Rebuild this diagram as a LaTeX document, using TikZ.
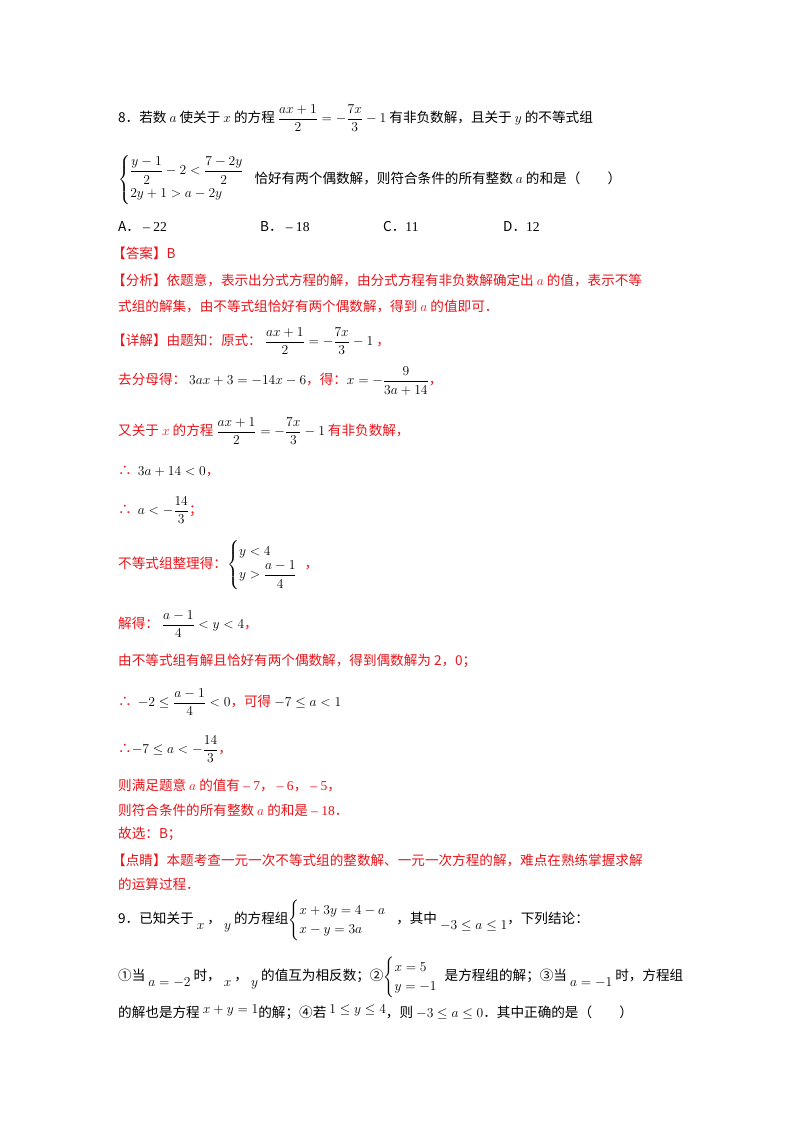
\RequirePackage{fix-cm}
\documentclass[tikz,border=0pt]{standalone}
\usepackage{amsmath,amssymb}
\usepackage{fontspec}
\setmainfont{Liberation Serif}
\newfontfamily\cjk{Noto Sans CJK SC}
\definecolor{ansred}{RGB}{232,20,26}
\newcommand{\lowm}[1]{\raisebox{-6pt}{$#1$}}
\newcommand{\highm}[1]{\raisebox{4pt}{$\scriptstyle #1$}}
\begin{document}
\begin{tikzpicture}[x=1pt,y=-1pt,
  t/.style={anchor=west,inner sep=0pt,font=\fontsize{13.6}{16}\selectfont\cjk},
  r/.style={t,text=ansred}]
\useasboundingbox (0,0) rectangle (800,1132);
\node[t] (q8) at (118,118) {8．若数 $a$ 使关于 $x$ 的方程 $\dfrac{ax+1}{2}=-\dfrac{7x}{3}-1$ 有非负数解，且关于 $y$ 的不等式组};
\node[t] (q8b) at (118,180) {$\begin{cases}\dfrac{y-1}{2}-2<\dfrac{7-2y}{2}\\[2pt] 2y+1>a-2y\end{cases}$\!\!\! 恰好有两个偶数解，则符合条件的所有整数 $a$ 的和是（\qquad ）};
\node[t] (oa) at (118,227) {A．\ {\rmfamily -- 22}};
\node[t] (ob) at (260,227) {B．\ {\rmfamily -- 18}};
\node[t] (oc) at (383,227) {C．{\rmfamily 11}};
\node[t] (od) at (503,227) {D．{\rmfamily 12}};
\node[r] (ans) at (112,253) {【答案】B};
\node[r] (fx1) at (112,280) {【分析】依题意，表示出分式方程的解，由分式方程有非负数解确定出 $a$ 的值，表示不等};
\node[r] (fx2) at (118,306) {式组的解集，由不等式组恰好有两个偶数解，得到 $a$ 的值即可．};
\node[r] (xj) at (112,341) {【详解】由题知：原式：\ $\textcolor{black}{\dfrac{ax+1}{2}=-\dfrac{7x}{3}-1}$\ ，};
\node[r] (s1) at (118,381) {去分母得：\ $\textcolor{black}{3ax+3=-14x-6}$，得：$\textcolor{black}{x=-\dfrac{9}{3a+14}}$，};
\node[r] (s2) at (118,431) {又关于 $x$ 的方程 $\textcolor{black}{\dfrac{ax+1}{2}=-\dfrac{7x}{3}-1}$ 有非负数解，};
\node[r] (s3) at (118,472) {∴\ \ $\textcolor{black}{3a+14<0}$，};
\node[r] (s4) at (118,510) {∴\ \ $\textcolor{black}{a<-\dfrac{14}{3}}$；};
\node[r] (s5) at (118,565) {不等式组整理得：$\textcolor{black}{\begin{cases}y<4\\ y>\dfrac{a-1}{4}\end{cases}}$\!\!\!，};
\node[r] (s6) at (118,624) {解得：\ $\textcolor{black}{\dfrac{a-1}{4}<y<4}$，};
\node[r] (s7) at (118,661) {由不等式组有解且恰好有两个偶数解，得到偶数解为 2，0；};
\node[r] (s8) at (118,702) {∴\ \ $\textcolor{black}{-2\le\dfrac{a-1}{4}<0}$，可得 $\textcolor{black}{-7\le a<1}$};
\node[r] (s9) at (118,749) {∴$\textcolor{black}{-7\le a<-\dfrac{14}{3}}$，};
\node[r] (s10) at (118,785) {则满足题意 $a$ 的值有 {\rmfamily -- 7}，\ {\rmfamily -- 6}，\ {\rmfamily -- 5}，};
\node[r] (s11) at (118,810) {则符合条件的所有整数 $a$ 的和是 {\rmfamily -- 18}．};
\node[r] (s12) at (118,834) {故选：B；};
\node[r] (dj1) at (112,860) {【点睛】本题考查一元一次不等式组的整数解、一元一次方程的解，难点在熟练掌握求解};
\node[r] (dj2) at (118,884) {的运算过程．};
\node[t] (q9) at (118,920) {9．已知关于\ \lowm{x}\ ，\ \lowm{y}\ 的方程组$\begin{cases}x+3y=4-a\\ x-y=3a\end{cases}$\!\!\!\ ，其中 \lowm{-3\le a\le 1}，下列结论：};
\node[t] (q9b) at (118,977) {①当 \lowm{a=-2} 时，\ \lowm{x}\ ，\ \lowm{y}\ 的值互为相反数；②$\begin{cases}x=5\\ y=-1\end{cases}$\!\!\!是方程组的解；③当 \lowm{a=-1} 时，方程组};
\node[t] (q9c) at (118,1012) {的解也是方程 \raisebox{4pt}{$x+y=1$}的解；④若 \raisebox{4pt}{$1\le y\le4$}，则 $-3\le a\le 0$．其中正确的是（\qquad ）};
\end{tikzpicture}
\end{document}
